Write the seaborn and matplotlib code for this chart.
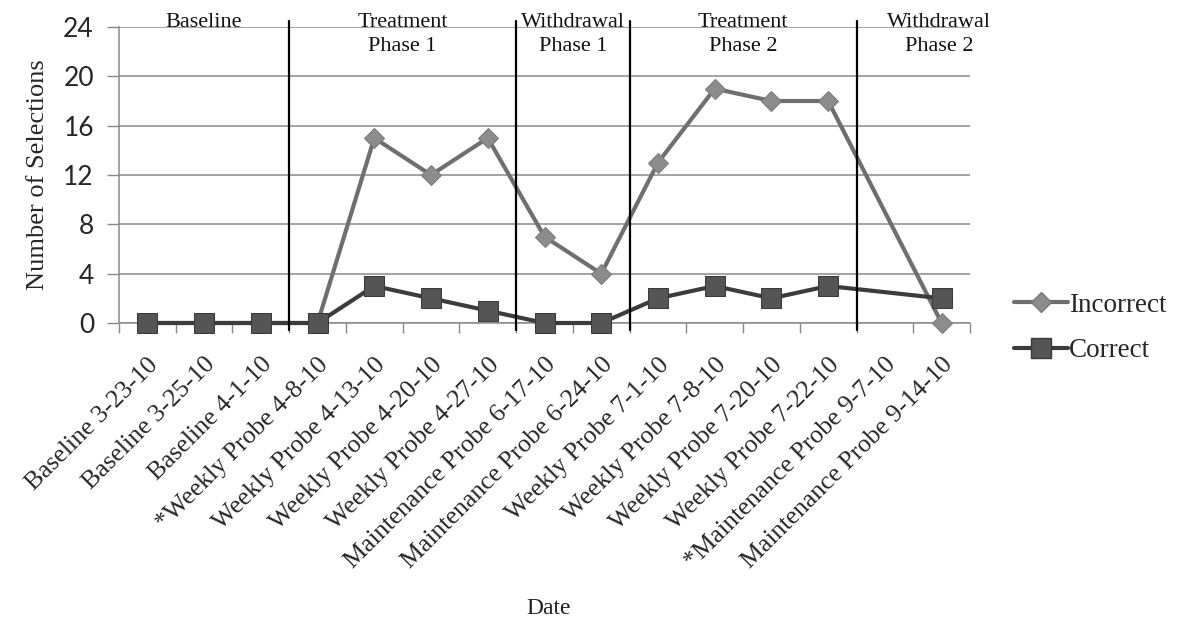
import numpy as np
import pandas as pd
import matplotlib
matplotlib.use("Agg")
import matplotlib.pyplot as plt
from matplotlib.ticker import FixedLocator
import seaborn as sns

# Session labels along the x axis
dates = [
    "Baseline 3-23-10", "Baseline 3-25-10", "Baseline 4-1-10",
    "*Weekly Probe 4-8-10", "Weekly Probe 4-13-10", "Weekly Probe 4-20-10",
    "Weekly Probe 4-27-10", "Maintenance Probe 6-17-10", "Maintenance Probe 6-24-10",
    "Weekly Probe 7-1-10", "Weekly Probe 7-8-10", "Weekly Probe 7-20-10",
    "Weekly Probe 7-22-10", "*Maintenance Probe 9-7-10", "Maintenance Probe 9-14-10",
]
# Number of selections per session (no data recorded on 9-7-10)
incorrect = [0, 0, 0, 0, 15, 12, 15, 7, 4, 13, 19, 18, 18, np.nan, 0]
correct = [0, 0, 0, 0, 3, 2, 1, 0, 0, 2, 3, 2, 3, np.nan, 2]

# Phase names and the session index ranges they cover
phase_names = ["Baseline", "Treatment\nPhase 1", "Withdrawal\nPhase 1",
               "Treatment\nPhase 2", "Withdrawal\nPhase 2"]
phase_bounds = [(0, 2), (3, 6), (7, 8), (9, 12), (13, 14)]

y_ticks = [0, 4, 8, 12, 16, 20, 24]

sns.set_style("white")
serif = ["Liberation Serif", "DejaVu Serif"]
plt.rcParams["font.family"] = serif

idx = np.arange(len(dates))
df = pd.DataFrame({
    "idx": np.concatenate([idx, idx]),
    "value": incorrect + correct,
    "series": ["Incorrect"] * len(dates) + ["Correct"] * len(dates),
}).dropna()

fig = plt.figure(figsize=(11.82, 6.24), dpi=100)
ax = fig.add_axes([119 / 1182, 1 - 323 / 624, (970 - 119) / 1182, (323 - 27) / 624])

palette = {"Incorrect": "#6f6f6f", "Correct": "#3c3c3c"}
sns.lineplot(data=df, x="idx", y="value", hue="series", style="series",
             hue_order=["Incorrect", "Correct"], palette=palette,
             markers={"Incorrect": "D", "Correct": "s"}, dashes=False,
             linewidth=3.0, ax=ax, legend=False, zorder=3)

# Restyle markers per series
lines = ax.get_lines()
lines[0].set_markerfacecolor("#8c8c8c")
lines[0].set_markeredgecolor("#7a7a7a")
lines[0].set_markersize(10)
lines[1].set_markerfacecolor("#555555")
lines[1].set_markeredgecolor("#3a3a3a")
lines[1].set_markersize(14)
lines[1].set_zorder(4)
for ln in lines:
    ln.set_clip_on(False)

ax.set_xlim(-0.5, len(dates) - 0.5)
ax.set_ylim(0, 24)

# Horizontal gridlines
ax.yaxis.set_major_locator(FixedLocator(y_ticks))
ax.grid(axis="y", color="#8a8a8a", linewidth=1.1)
ax.grid(axis="x", visible=False)

# Category labels at centres, tick marks at category boundaries
ax.set_xticks(idx)
ax.set_xticklabels(dates, rotation=45, ha="right", rotation_mode="anchor",
                   fontsize=18.5, family=serif)
ax.tick_params(axis="x", which="major", length=0, pad=22)
ax.set_xticks(np.arange(-0.5, len(dates)), minor=True)
ax.tick_params(axis="x", which="minor", length=7, width=1, color="#888888",
               direction="out", bottom=True)

ax.set_yticks(y_ticks)
ax.set_yticklabels([str(v) for v in y_ticks], fontsize=19,
                   family=["Lato", "DejaVu Sans"])
ax.tick_params(axis="y", length=9, width=1, color="#888888", pad=9, left=True)

for side in ["top", "right"]:
    ax.spines[side].set_visible(False)
for side in ["left", "bottom"]:
    ax.spines[side].set_color("#8a8a8a")
    ax.spines[side].set_linewidth(1.1)

ax.set_ylabel("Number of Selections", fontsize=19, labelpad=10)
ax.set_xlabel("")
fig.text(549 / 1182, 1 - 608 / 624, "Date", ha="center", va="center",
         fontsize=17, color="#222222")

# Phase change lines and phase titles
for (a, b) in phase_bounds[1:]:
    ax.axvline(a - 0.5, ymin=-0.025, ymax=1.02, color="black",
               linewidth=1.6, clip_on=False, zorder=5)
for name, (a, b) in zip(phase_names, phase_bounds):
    cx = (a + b) / 2 if b < len(dates) - 1 else b - 0.05
    ax.text(cx, 25.15, name, ha="center", va="top", fontsize=16,
            linespacing=1.38, color="#111111", zorder=6, clip_on=False)

# Legend
handles = [
    plt.Line2D([], [], color="#6f6f6f", linewidth=3, marker="D",
               markersize=10, markerfacecolor="#8c8c8c", markeredgecolor="#7a7a7a"),
    plt.Line2D([], [], color="#3c3c3c", linewidth=3, marker="s",
               markersize=14, markerfacecolor="#555555", markeredgecolor="#3a3a3a"),
]
fig.legend(handles, ["Incorrect", "Correct"], loc="center left",
           bbox_to_anchor=(1003 / 1182, 1 - 328 / 624), frameon=False,
           fontsize=19.5, handlelength=2.0, handletextpad=0.05,
           labelspacing=0.75, borderaxespad=0)

fig.savefig("out.png", dpi=100, facecolor="white")
